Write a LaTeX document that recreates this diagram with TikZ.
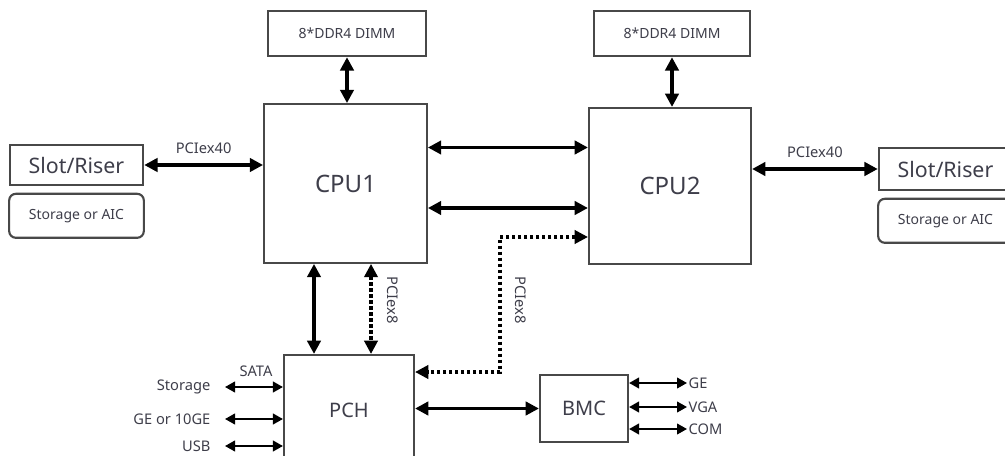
\documentclass[tikz,border=0pt]{standalone}
\usepackage{fontspec}
\setmainfont{Noto Sans}
\usetikzlibrary{positioning,arrows.meta,calc}
\definecolor{BoxGray}{RGB}{72,72,72}
\definecolor{TxtGray}{RGB}{62,62,74}
\tikzset{
  chip/.style={rectangle, draw=BoxGray, line width=1.6pt, fill=white,
    text=TxtGray, align=center, inner sep=1pt},
  slot/.style={chip, minimum width=100pt, minimum height=30pt, font=\fontsize{16}{18}\selectfont},
  store/.style={chip, rounded corners=5pt, minimum width=101pt, minimum height=33pt,
    font=\fontsize{10.5}{12}\selectfont},
  dimm/.style={chip, minimum width=118pt, minimum height=34pt, font=\fontsize{10.5}{12}\selectfont},
  lbl/.style={text=TxtGray, inner sep=1pt, font=\fontsize{11}{13}\selectfont},
  bus/.style={{Triangle[length=10pt,width=10pt]}-{Triangle[length=10pt,width=10pt]},
    line width=2.7pt, draw=black},
  pcie/.style={bus, line width=2.3pt, dash pattern=on 2.3pt off 2.2pt},
  io/.style={{Triangle[length=7.5pt,width=8pt]}-{Triangle[length=7.5pt,width=8pt]},
    line width=1.5pt, draw=black}
}
\begin{document}
\begin{tikzpicture}[x=0.75pt, y=-0.75pt]
  \useasboundingbox (0,0) rectangle (1005,456);
  % processors and memory
  \node[chip, minimum width=122pt, minimum height=119pt, font=\fontsize{18}{20}\selectfont] (cpu1) at (345.5,183.5) {CPU1};
  \node[chip, minimum width=121.5pt, minimum height=117pt, font=\fontsize{18}{20}\selectfont] (cpu2) at (670,186) {CPU2};
  \node[dimm] (dimm1) at (347,33.5) {8*DDR4 DIMM};
  \node[dimm, minimum width=117pt] (dimm2) at (672,33.5) {8*DDR4 DIMM};
  % expansion slots
  \node[slot] (slotL) at (76.5,165) {Slot/Riser};
  \node[store, below=5pt of slotL] (aicL) {Storage or AIC};
  \node[slot, minimum height=31.5pt] (slotR) at (945.5,169) {Slot/Riser};
  \node[store, below=5pt of slotR] (aicR) {Storage or AIC};
  % chipset
  \node[chip, minimum width=97.5pt, minimum height=82.5pt, font=\fontsize{15}{17}\selectfont] (pch) at (349,410) {PCH};
  \node[chip, minimum width=66pt, minimum height=50pt, font=\fontsize{15}{17}\selectfont] (bmc) at (584,408.5) {BMC};

  \draw[bus] (dimm1.south) -- (dimm1.south |- cpu1.north);
  \draw[bus] (dimm2.south) -- (dimm2.south |- cpu2.north);
  \draw[bus] (slotL.east) -- (slotL.east -| cpu1.west) node[lbl, midway, above=6pt] {PCIex40};
  \draw[bus] (slotR.west -| cpu2.east) -- (slotR.west) node[lbl, midway, above=6pt] {PCIex40};
  \coordinate (upi1) at ($(cpu1.east)+(0,-36)$);
  \coordinate (upi2) at ($(cpu1.east)+(0,24.5)$);
  \draw[bus] (upi1) -- (upi1 -| cpu2.west);
  \draw[bus] (upi2) -- (upi2 -| cpu2.west);
  \coordinate (dmi) at ($(cpu1.south)+(-31.5,0)$);
  \coordinate (x8a) at ($(cpu1.south)+(25.5,0)$);
  \draw[bus] (dmi) -- (dmi |- pch.north);
  \draw[pcie] (x8a) -- (x8a |- pch.north);
  \node[lbl, rotate=-90] at (393,300) {PCIex8};
  \coordinate (x8b) at ($(cpu2.west)+(0,51)$);
  \coordinate (bend) at (500,237);
  \draw[pcie] (x8b) -- (bend) -- (bend |- 0,372) -- (pch.east |- 0,372);
  \node[lbl, rotate=-90] at (521,300) {PCIex8};
  \draw[bus] (pch.east |- bmc.west) -- (bmc.west);

  % PCH side ports
  \foreach \name/\yy in {st/387, ge/419, usb/446} {
    \coordinate (\name) at (225,\yy);
    \draw[io] (\name) -- (\name -| pch.west);
  }
  \node[lbl, anchor=east] at ($(st)+(-13,0)$) {Storage};
  \node[lbl, anchor=east] at ($(ge)+(-13,0)$) {GE or 10GE};
  \node[lbl, anchor=east] at ($(usb)+(-13,0)$) {USB};
  \node[lbl] at (256,371) {SATA};

  % BMC side ports
  \foreach \name/\yy in {bge/383, vga/407, com/429} {
    \coordinate (\name) at (687,\yy);
    \draw[io] (\name -| bmc.east) -- (\name);
  }
  \node[lbl, anchor=west] at (bge) {GE};
  \node[lbl, anchor=west] at (vga) {VGA};
  \node[lbl, anchor=west] at (com) {COM};
\end{tikzpicture}
\end{document}
